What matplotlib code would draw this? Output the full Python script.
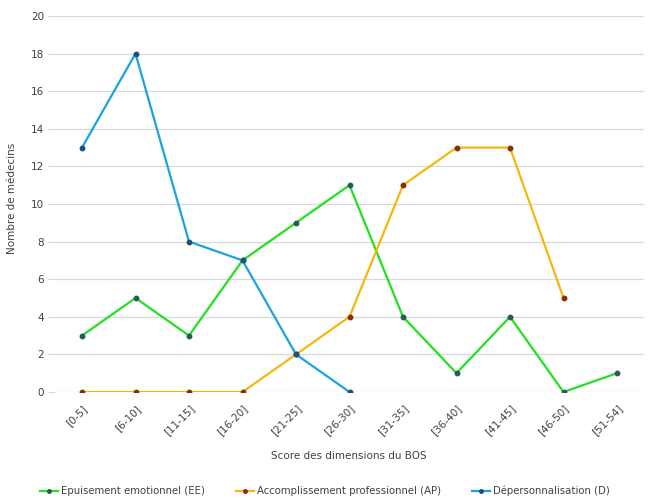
import numpy as np
import matplotlib.pyplot as plt

categories = ["[0-5]", "[6-10]", "[11-15]", "[16-20]", "[21-25]", "[26-30]",
              "[31-35]", "[36-40]", "[41-45]", "[46-50]", "[51-54]"]
ee = [3, 5, 3, 7, 9, 11, 4, 1, 4, 0, 1]
ap = [0, 0, 0, 0, 2, 4, 11, 13, 13, 5, np.nan]
dep = [13, 18, 8, 7, 2, 0, np.nan, np.nan, np.nan, np.nan, np.nan]

series = [
    ("Epuisement emotionnel (EE)", ee, "#22e022", "#2a5a55"),
    ("Accomplissement professionnel (AP)", ap, "#f5b80a", "#8a2c06"),
    ("Dépersonnalisation (D)", dep, "#1aa3dc", "#1f4f7a"),
]

fig = plt.figure(figsize=(6.52, 5.04), dpi=100)
ax = fig.add_axes([55.25 / 652, 1 - 392 / 504, 588.5 / 652, 376 / 504])

x = np.arange(len(categories))
for label, values, color, mcolor in series:
    ax.plot(x, values, color=color, lw=1.6, marker="o", ms=3.2,
            mfc=mcolor, mec=mcolor, label=label, zorder=3)

ax.set_xlim(-0.5, len(categories) - 0.5)
ax.set_ylim(0, 20)
ax.set_yticks(range(0, 21, 2))
ax.set_xticks(x)
ax.set_xticklabels(categories, rotation=45, ha="right", rotation_mode="anchor")
ax.yaxis.grid(True, color="#d9d9d9", lw=0.9)
ax.set_axisbelow(True)
for s in ax.spines.values():
    s.set_visible(False)
ax.tick_params(axis="y", length=5, color="#d9d9d9", labelsize=7.5,
               labelcolor="#404040", pad=3)
ax.tick_params(axis="x", length=0, labelsize=7.5, labelcolor="#404040", pad=8)

fig.text(349 / 652, 1 - 456 / 504, "Score des dimensions du BOS",
         ha="center", va="center", fontsize=7.5, color="#404040")
fig.text(12 / 652, 1 - 198 / 504, "Nombre de médecins", rotation=90,
         ha="center", va="center", fontsize=7.5, color="#404040")

fig.legend(loc="center", bbox_to_anchor=(325 / 652, 1 - 491 / 504), ncol=3,
           frameon=False, fontsize=7.3, handlelength=1.8, handletextpad=0.3,
           columnspacing=3.0, labelcolor="#404040", markerscale=0.8)

fig.savefig("out.png", dpi=100)
